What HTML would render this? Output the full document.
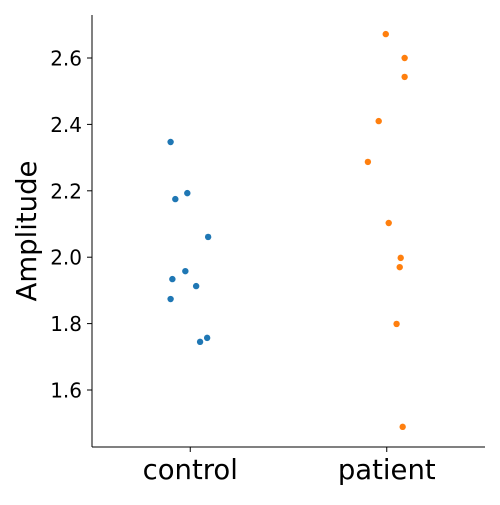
<!DOCTYPE html>
<html><head><meta charset="utf-8"><style>
body{margin:0;background:#fff}
svg text{font-family:"DejaVu Sans","Liberation Sans",sans-serif;fill:#000}
</style></head><body>
<svg id="chart" width="500" height="500" xmlns="http://www.w3.org/2000/svg"></svg>
<script>
const categories = ["control", "patient"];
const controlValues = [2.347, 2.175, 2.193, 2.061, 1.958, 1.934, 1.913, 1.874, 1.757, 1.745];
const controlJitter = [-0.10, -0.076, -0.015, 0.091, -0.025, -0.091, 0.03, -0.10, 0.086, 0.05];
const patientValues = [2.672, 2.6, 2.543, 2.41, 2.287, 2.103, 1.998, 1.970, 1.799, 1.489];
const patientJitter = [-0.005, 0.091, 0.091, -0.041, -0.096, 0.01, 0.071, 0.066, 0.05, 0.081];
const yTicks = [1.6, 1.8, 2.0, 2.2, 2.4, 2.6];
const yTickLabels = ["1.6", "1.8", "2.0", "2.2", "2.4", "2.6"];

const NS = "http://www.w3.org/2000/svg";
const svg = document.getElementById("chart");
const L = 92, R = 485, T = 15, B = 447;
const y = v => 390 - (v - 1.6) * 332;
const x = c => L + (c + 0.5) / 2 * (R - L);
function mk(tag, attrs, parent) {
  const e = document.createElementNS(NS, tag);
  for (const k in attrs) e.setAttribute(k, attrs[k]);
  (parent || svg).appendChild(e);
  return e;
}
const yAxis = mk("line", {x1: L, y1: T, x2: L, y2: B, stroke: "#000", "stroke-width": 1});


const xAxis = mk("line", {x1: L, y1: B, x2: R, y2: B, stroke: "#000", "stroke-width": 1});



yTicks.forEach((t, i) => {
  const tk = mk("line", {x1: L - 5, y1: y(t), x2: L, y2: y(t), stroke: "#000"});
  
  
  const tx = mk("text", {x: L - 10, y: y(t) + 7.5, "text-anchor": "end", "font-size": 20});
  tx.textContent = yTickLabels[i];
  
  
});
categories.forEach((c, i) => {
  const tk = mk("line", {x1: x(i), y1: B, x2: x(i), y2: B + 5, stroke: "#000"});
  
  
  const tx = mk("text", {x: x(i), y: B + 32, "text-anchor": "middle", "font-size": 27.5});
  tx.textContent = c;
  
  
});
const yl = mk("text", {x: 0, y: 0, "text-anchor": "middle", "font-size": 27.5, transform: "translate(36," + ((T + B) / 2) + ") rotate(-90)"});
yl.textContent = "Amplitude";



const series = [[controlValues, controlJitter, "#1f77b4", "control-point"], [patientValues, patientJitter, "#ff7f0e", "patient-point"]];
series.forEach((s, ci) => {
  s[0].forEach((v, i) => {
    const p = mk("circle", {cx: x(ci + s[1][i]), cy: y(v), r: 3.2, fill: s[2]});
    
    
  });
});
</script>
</body></html>
